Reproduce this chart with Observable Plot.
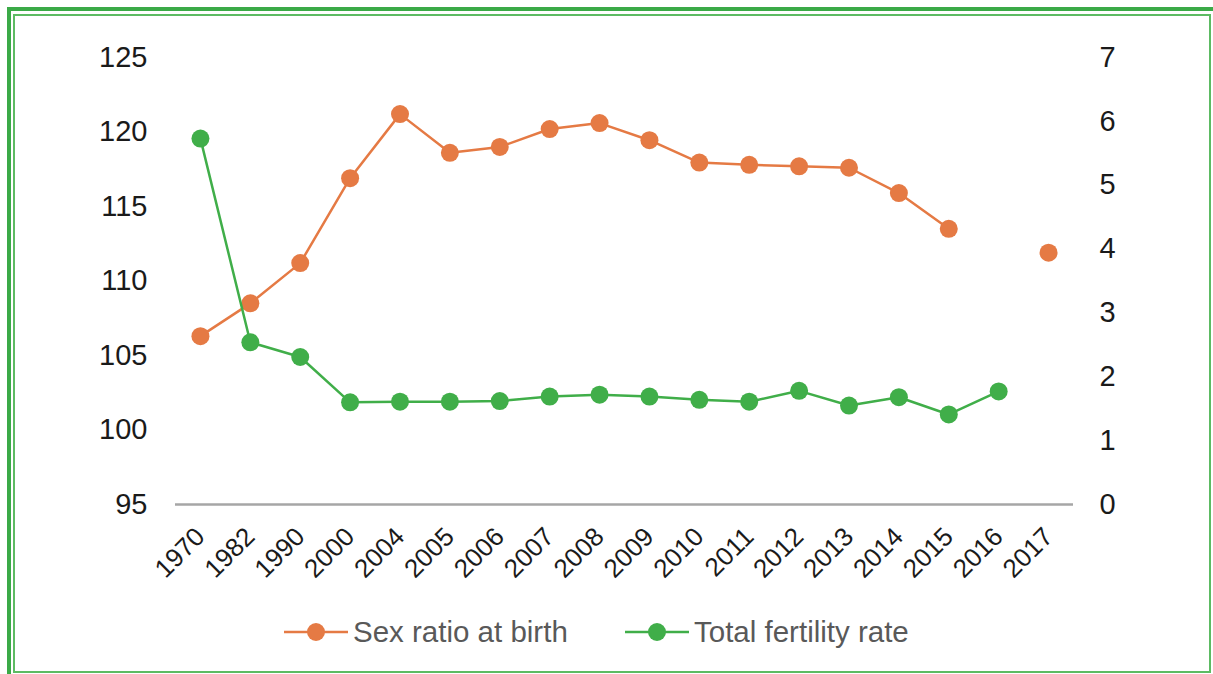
<!DOCTYPE html>
<html><head><meta charset="utf-8">
<script src="https://cdn.jsdelivr.net/npm/d3@7"></script>
<script src="https://cdn.jsdelivr.net/npm/@observablehq/plot@0.6"></script>
<style>
body{margin:0;background:#fff;font-family:"Liberation Sans",Arial,Helvetica,sans-serif;}
#wrap{position:relative;width:1213px;height:674px;overflow:hidden;background:#fff}
.thick{position:absolute;left:7px;top:7px;right:-20px;bottom:-20px;border-top:4px solid #3BAA47;border-left:4px solid #3BAA47;}
.thin{position:absolute;left:13px;top:14px;width:1198px;height:659px;box-sizing:border-box;border:2px solid #5DBB63;}
#chart{position:absolute;left:0;top:0}
.leg{position:absolute;top:616px;height:32px;display:flex;align-items:center;font-size:29.5px;color:#595959;white-space:nowrap}
.leg svg{margin-right:5px}
</style></head>
<body>
<div id="wrap">
  <div class="thick"></div>
  <div class="thin"></div>
  <div id="chart"></div>
  <div class="leg" id="leg1" style="left:284px"></div>
  <div class="leg" id="leg2" style="left:625px"></div>
</div>
<script>
const years = ["1970","1982","1990","2000","2004","2005","2006","2007","2008","2009","2010","2011","2012","2013","2014","2015","2016","2017"];
const sexRatio = [106.3,108.5,111.2,116.9,121.2,118.6,119.0,120.2,120.6,119.45,117.95,117.8,117.7,117.6,115.9,113.5,null,111.9];
const fertility = [5.73,2.54,2.31,1.60,1.61,1.61,1.62,1.69,1.72,1.69,1.64,1.61,1.78,1.55,1.68,1.41,1.77,null];
const leftTicks = [95,100,105,110,115,120,125];
const rightTicks = [0,1,2,3,4,5,6,7];
const seriesNames = ["Sex ratio at birth","Total fertility rate"];
const orange = "#E57A44", green = "#40AE49";

const leftMin = 95, leftMax = 125, rightMax = 7;
const toLeft = v => (v == null ? NaN : leftMin + v * (leftMax - leftMin) / rightMax);

const sexData = years.map((y, i) => ({year: y, v: sexRatio[i] == null ? NaN : sexRatio[i]}));
const tfrData = years.map((y, i) => ({year: y, v: toLeft(fertility[i])}));

const font = '"Liberation Sans", Arial, Helvetica, sans-serif';
const chart = Plot.plot({
  width: 1213, height: 600,
  marginLeft: 175, marginRight: 140, marginTop: 57, marginBottom: 96,
  style: {fontFamily: font, fontSize: "29px", color: "#1a1a1a", background: "transparent", overflow: "visible"},
  x: {type: "band", domain: years, padding: 0, round: false, axis: null},
  y: {domain: [leftMin, leftMax], axis: null},
  marks: [
    Plot.axisY({ticks: leftTicks, tickSize: 0, tickPadding: 28, fontSize: 29, fill: "#1a1a1a", label: null}),
    Plot.text(rightTicks, {y: d => toLeft(d), text: d => String(d), frameAnchor: "right", textAnchor: "start", dx: 26, fontSize: 29, fill: "#1a1a1a"}),
    Plot.axisX({tickSize: 0, tickRotate: -45, tickPadding: 28, fontSize: 26, fill: "#1a1a1a", label: null}),
    Plot.ruleY([leftMin], {stroke: "#A6A6A6", strokeWidth: 2.5}),
    Plot.line(sexData, {x: "year", y: "v", stroke: orange, strokeWidth: 2.5}),
    Plot.dot(sexData, {x: "year", y: "v", r: 9, fill: orange}),
    Plot.line(tfrData, {x: "year", y: "v", stroke: green, strokeWidth: 2.5}),
    Plot.dot(tfrData, {x: "year", y: "v", r: 9, fill: green})
  ]
});
document.getElementById("chart").appendChild(chart);

function swatch(color) {
  return `<svg width="64" height="20" viewBox="0 0 64 20"><line x1="0" y1="10" x2="64" y2="10" stroke="${color}" stroke-width="2.5"/><circle cx="32" cy="10" r="9" fill="${color}"/></svg>`;
}
document.getElementById("leg1").innerHTML = swatch(orange) + `<span>${seriesNames[0]}</span>`;
document.getElementById("leg2").innerHTML = swatch(green) + `<span>${seriesNames[1]}</span>`;
</script>
</body></html>
